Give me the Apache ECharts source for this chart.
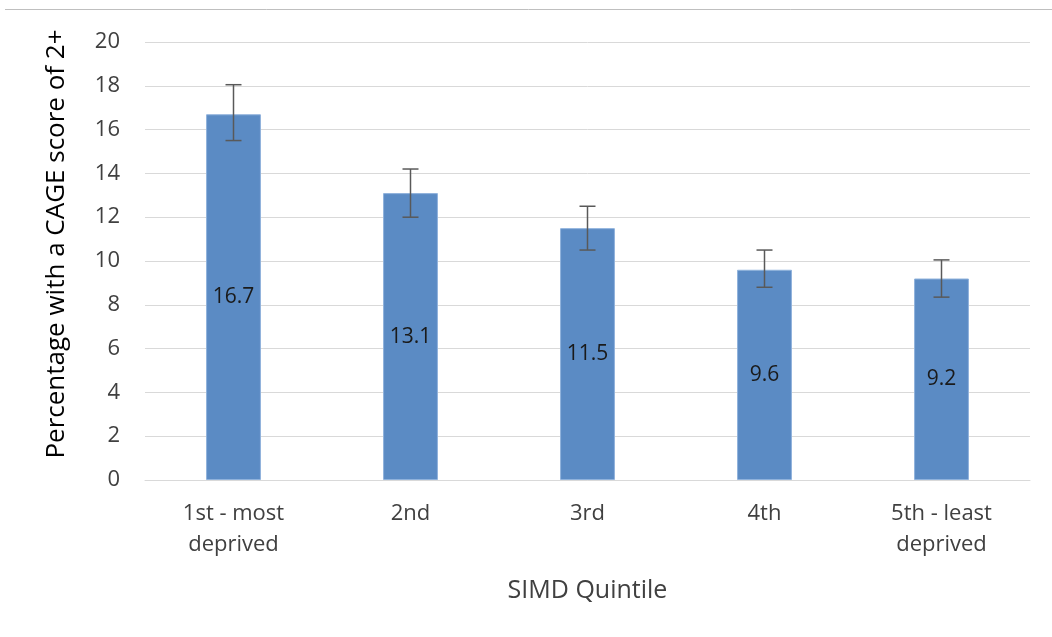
<!DOCTYPE html>
<html>
<head>
<meta charset="utf-8">
<script src="https://cdn.jsdelivr.net/npm/echarts@6/dist/echarts.min.js"></script>
<style>html,body{margin:0;padding:0;background:#fff}#c{width:1052px;height:637px}</style>
</head>
<body>
<div id="c"></div>
<script>
var categories = ['1st - most\ndeprived', '2nd', '3rd', '4th', '5th - least\ndeprived'];
var values = [16.7, 13.1, 11.5, 9.6, 9.2];
var lower = [15.5, 12.0, 10.5, 8.8, 8.35];
var upper = [18.05, 14.2, 12.5, 10.5, 10.05];
var yTicks = [0, 2, 4, 6, 8, 10, 12, 14, 16, 18, 20];

var font = '"Open Sans", "Liberation Sans", sans-serif';
var chart = echarts.init(document.getElementById('c'));
chart.setOption({
  animation: false,
  grid: {left: 145, right: 22, top: 42, bottom: 157},
  graphic: [{type: 'line', shape: {x1: 5, y1: 9.5, x2: 1052, y2: 9.5}, style: {stroke: '#bfbfbf', lineWidth: 1}}],
  xAxis: {
    type: 'category', data: categories,
    name: 'SIMD Quintile', nameLocation: 'middle', nameGap: 98,
    nameTextStyle: {fontSize: 25, color: '#404040', fontFamily: font},
    axisLine: {lineStyle: {color: '#d9d9d9'}},
    axisTick: {show: false},
    axisLabel: {fontSize: 22, color: '#404040', fontFamily: font, lineHeight: 31, margin: 18}
  },
  yAxis: {
    type: 'value', min: yTicks[0], max: yTicks[yTicks.length - 1], interval: 2,
    name: 'Percentage with a CAGE score of 2+', nameLocation: 'middle', nameGap: 75,
    nameTextStyle: {fontSize: 26, color: '#000', fontFamily: font, padding: [0, 0, 0, 34]},
    axisLabel: {fontSize: 22, color: '#404040', fontFamily: font, margin: 25},
    splitLine: {lineStyle: {color: '#d9d9d9', width: 1}},
    axisLine: {show: false}, axisTick: {show: false}
  },
  series: [{
    type: 'bar', data: values, barWidth: '31%',
    itemStyle: {color: '#5b8bc4', borderColor: '#8fb2dc', borderWidth: 1},
    label: {show: true, position: 'inside', color: '#1a1a1a', fontSize: 21, fontFamily: font}
  }, {
    type: 'custom',
    data: values.map(function (v, i) { return [i, lower[i], upper[i]]; }),
    renderItem: function (params, api) {
      var lo = api.coord([api.value(0), api.value(1)]);
      var hi = api.coord([api.value(0), api.value(2)]);
      var w = 8;
      var st = {stroke: '#595959', lineWidth: 1.5};
      return {type: 'group', children: [
        {type: 'line', shape: {x1: hi[0], y1: hi[1], x2: lo[0], y2: lo[1]}, style: st},
        {type: 'line', shape: {x1: hi[0] - w, y1: hi[1], x2: hi[0] + w, y2: hi[1]}, style: st},
        {type: 'line', shape: {x1: lo[0] - w, y1: lo[1], x2: lo[0] + w, y2: lo[1]}, style: st}
      ]};
    },
    z: 10
  }]
});
</script>
</body>
</html>
